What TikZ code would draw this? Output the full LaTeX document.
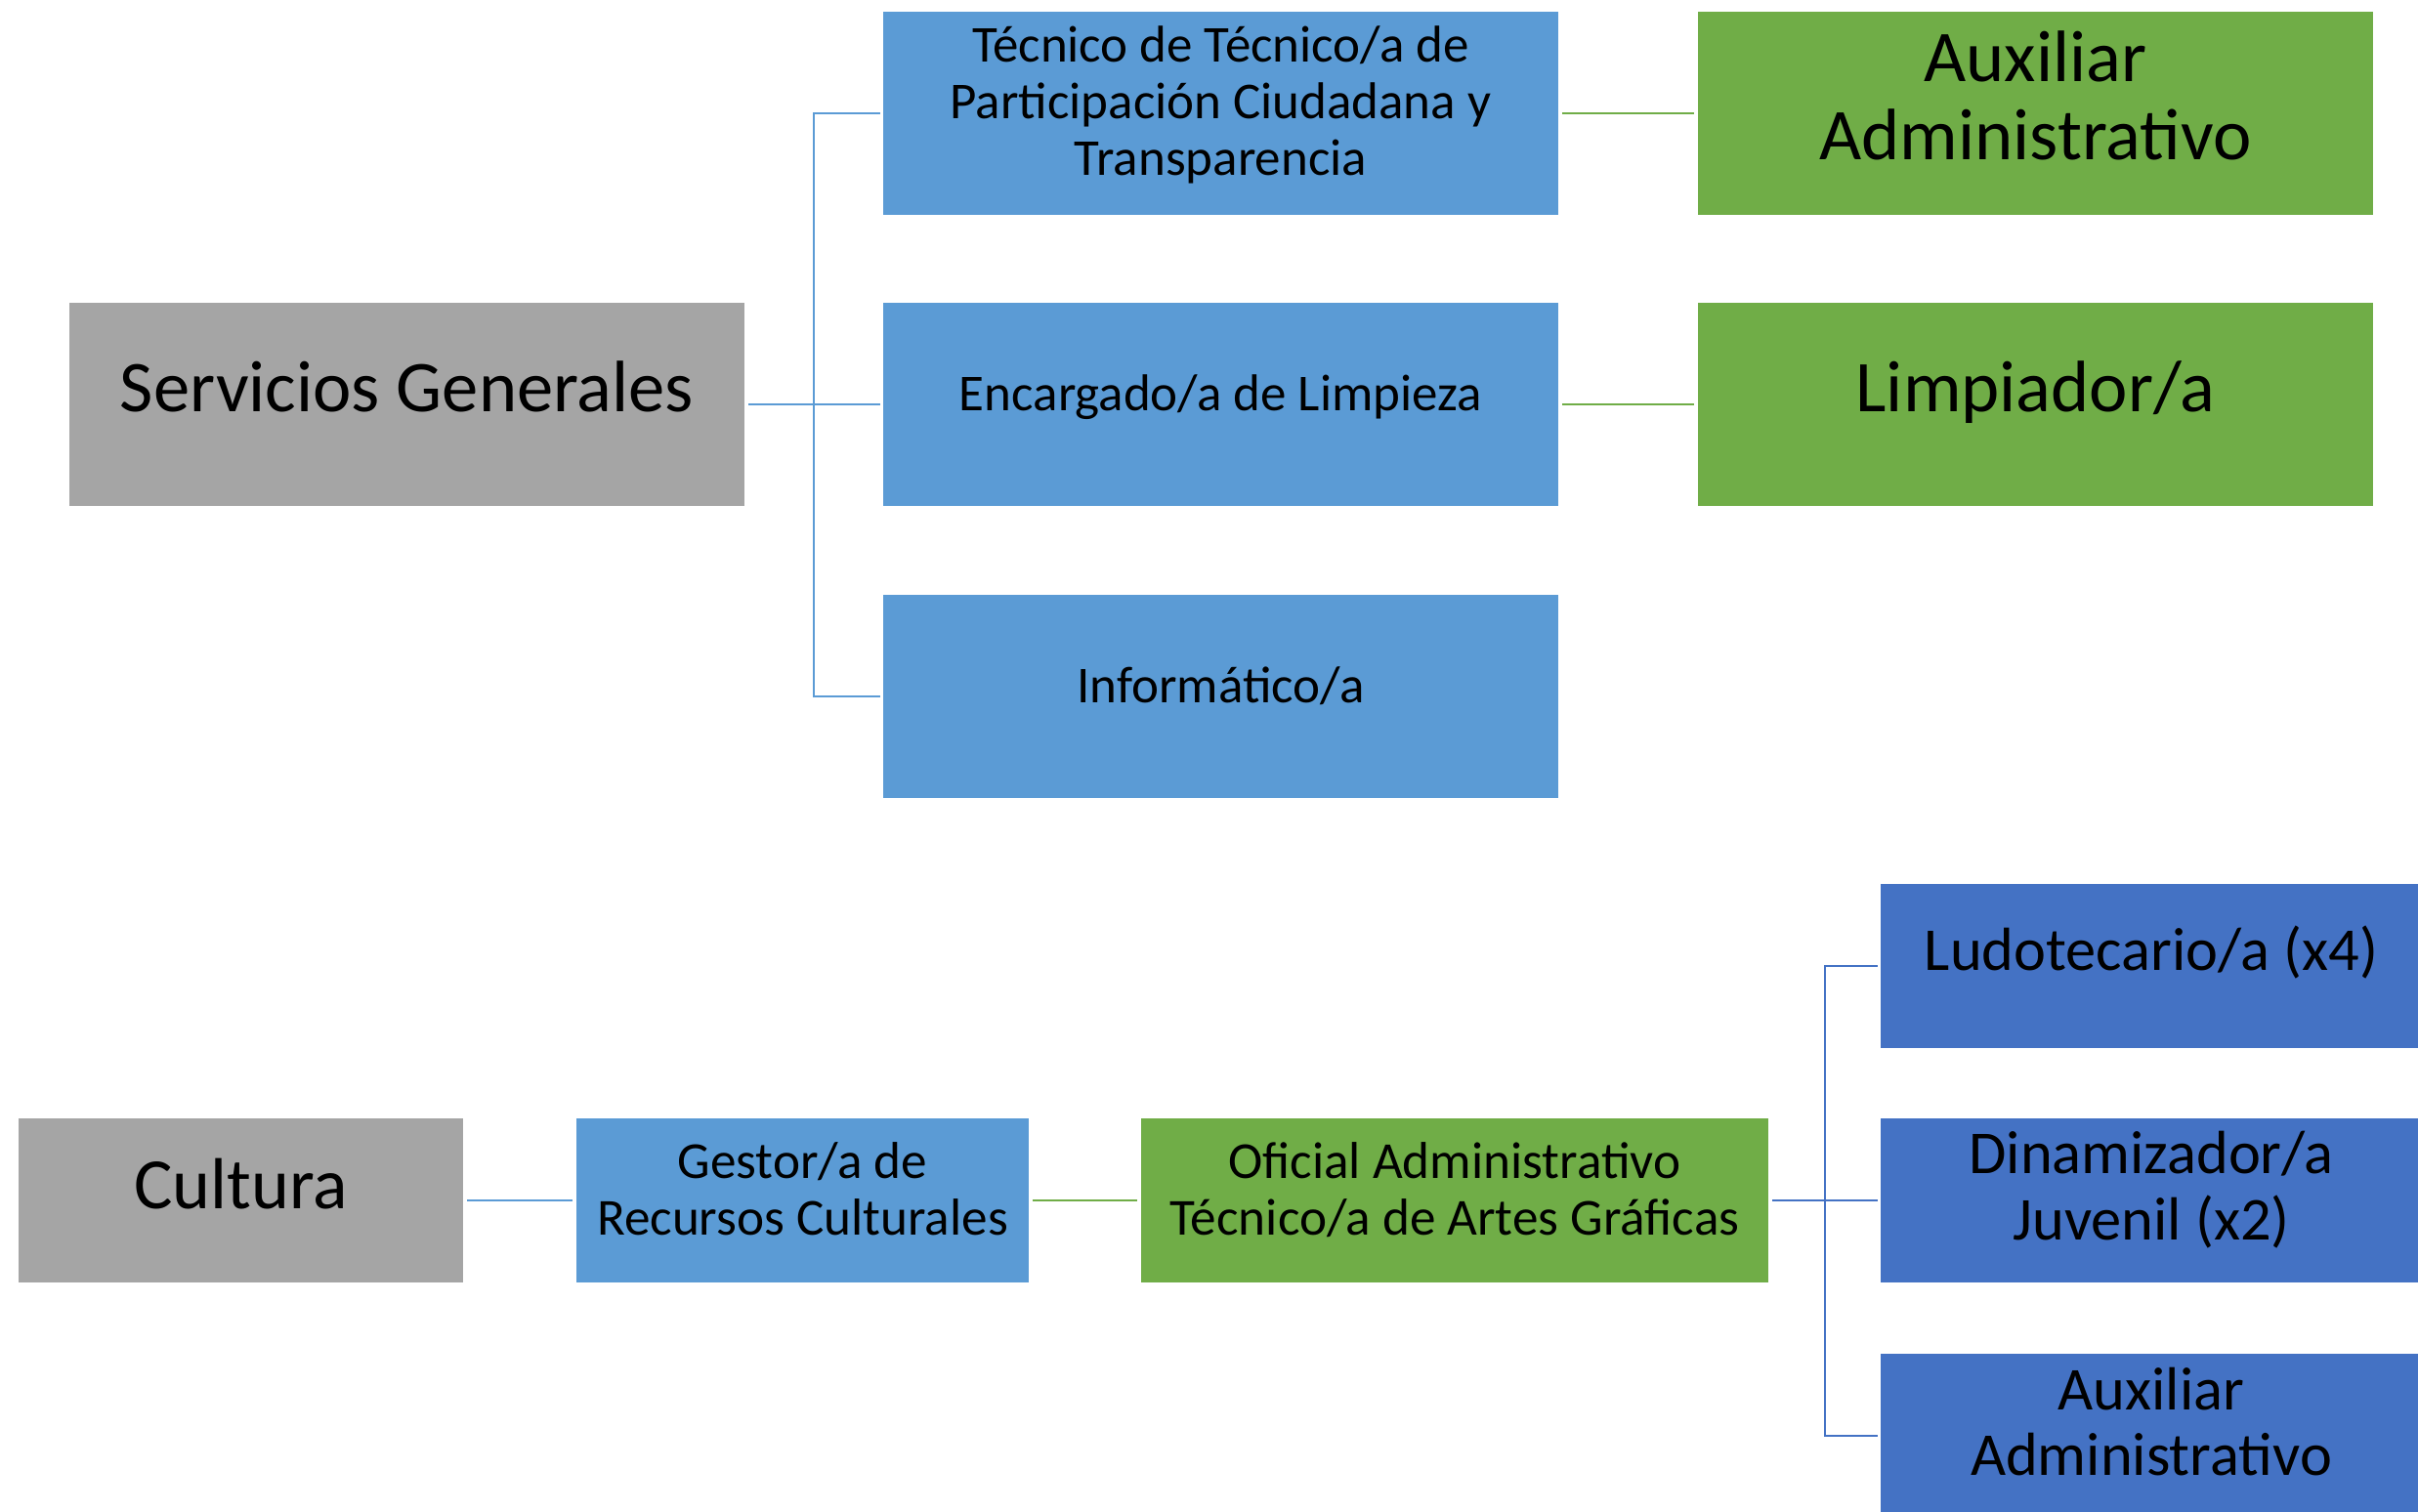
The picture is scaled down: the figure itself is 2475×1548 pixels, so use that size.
\documentclass[tikz,border=0pt]{standalone}
\usepackage{fontspec}
\setmainfont{Carlito}
\definecolor{cgray}{HTML}{A5A5A5}
\definecolor{cblue}{HTML}{5B9BD5}
\definecolor{cgreen}{HTML}{70AD47}
\definecolor{cdblue}{HTML}{4472C4}
\tikzset{
  x=0.5pt, y=-0.5pt,
  box/.style={rectangle, inner sep=0pt, draw=none},
  wide/.style={box, minimum width=345.5pt, minimum height=104pt},
  gbox/.style={wide, fill=cgray},
  bbox/.style={wide, fill=cblue},
  grbox/.style={wide, fill=cgreen},
  lbl/.style={anchor=base, align=center, inner sep=0pt, text=black},
  conb/.style={draw=cblue, line width=1.1pt},
  cong/.style={draw=cgreen, line width=1.1pt},
  cond/.style={draw=cdblue, line width=1.1pt},
}
\begin{document}
\begin{tikzpicture}
\useasboundingbox (0,0) rectangle (2475,1548);
% top section boxes
\node[gbox] (sg) at (416.5,414) {};
\node[bbox] (t1) at (1249.5,116) {};
\node[bbox] (t2) at (1249.5,414) {};
\node[bbox] (t3) at (1249.5,713) {};
\node[grbox] (g1) at (2083.5,116) {};
\node[grbox] (g2) at (2083.5,414) {};
% bottom section boxes
\node[box, fill=cgray, minimum width=227.5pt, minimum height=84pt] (cu) at (246.5,1229) {};
\node[box, fill=cblue, minimum width=231.5pt, minimum height=84pt] (ge) at (821.5,1229) {};
\node[box, fill=cgreen, minimum width=321pt, minimum height=84pt] (of) at (1489,1229) {};
\node[box, fill=cdblue, minimum width=277pt, minimum height=84pt] (lu) at (2202,989) {};
\node[box, fill=cdblue, minimum width=277pt, minimum height=84pt] (di) at (2202,1229) {};
\node[box, fill=cdblue, minimum width=277pt, minimum height=84pt] (au) at (2202,1470) {};
% labels (anchor=base is the baseline of the last line)
\node[lbl, font=\fontsize{37.3}{43}\selectfont] (sgt) at (416.5,421) {Servicios Generales};
\node[lbl, font=\fontsize{26.5}{29}\selectfont] (t1t) at (1249.5,179) {Técnico de Técnico/a de\\Participación Ciudadana y\\Transparencia};
\node[lbl, font=\fontsize{26.5}{29}\selectfont] (t2t) at (1249.5,420) {Encargado/a de Limpieza};
\node[lbl, font=\fontsize{26.5}{29}\selectfont] (t3t) at (1249.5,719) {Informático/a};
\node[lbl, font=\fontsize{37.3}{40}\selectfont] (g1t) at (2083.5,163) {Auxiliar\\Administrativo};
\node[lbl, font=\fontsize{37.3}{43}\selectfont] (g2t) at (2083.5,421) {Limpiador/a};
\node[lbl, font=\fontsize{37}{43}\selectfont] (cut) at (246.5,1237) {Cultura};
\node[lbl, font=\fontsize{26.6}{29}\selectfont] (get) at (821.5,1264) {Gestor/a de\\Recursos Culturales};
\node[lbl, font=\fontsize{26.6}{29}\selectfont] (oft) at (1489,1264) {Oficial Administrativo\\Técnico/a de Artes Gráficas};
\node[lbl, font=\fontsize{31.2}{34}\selectfont] (lut) at (2202,993.5) {Ludotecario/a (x4)};
\node[lbl, font=\fontsize{31.2}{34}\selectfont] (dit) at (2202,1269) {Dinamizador/a\\Juvenil (x2)};
\node[lbl, font=\fontsize{31.2}{33.5}\selectfont] (aut) at (2202,1510.5) {Auxiliar\\Administrativo};
% connectors top
\coordinate (b1) at (833,414);
\draw[conb, shorten <=2pt, shorten >=1.5pt] (sg.east) -- (t2.west);
\draw[conb, shorten >=1.5pt] (b1) |- (t1.west);
\draw[conb, shorten >=1.5pt] (b1) |- (t3.west);
\draw[cong, shorten <=2pt, shorten >=2pt] (t1.east) -- (g1.west);
\draw[cong, shorten <=2pt, shorten >=2pt] (t2.east) -- (g2.west);
% connectors bottom
\draw[conb, shorten <=2pt, shorten >=2pt] (cu.east) -- (ge.west);
\draw[cong, shorten <=2pt, shorten >=2pt] (ge.east) -- (of.west);
\coordinate (b2) at (1868,1229);
\draw[cond, shorten <=2pt, shorten >=1.5pt] (of.east) -- (di.west);
\draw[cond, shorten >=1.5pt] (b2) |- (lu.west);
\draw[cond, shorten >=1.5pt] (b2) |- (au.west);
\end{tikzpicture}
\end{document}
